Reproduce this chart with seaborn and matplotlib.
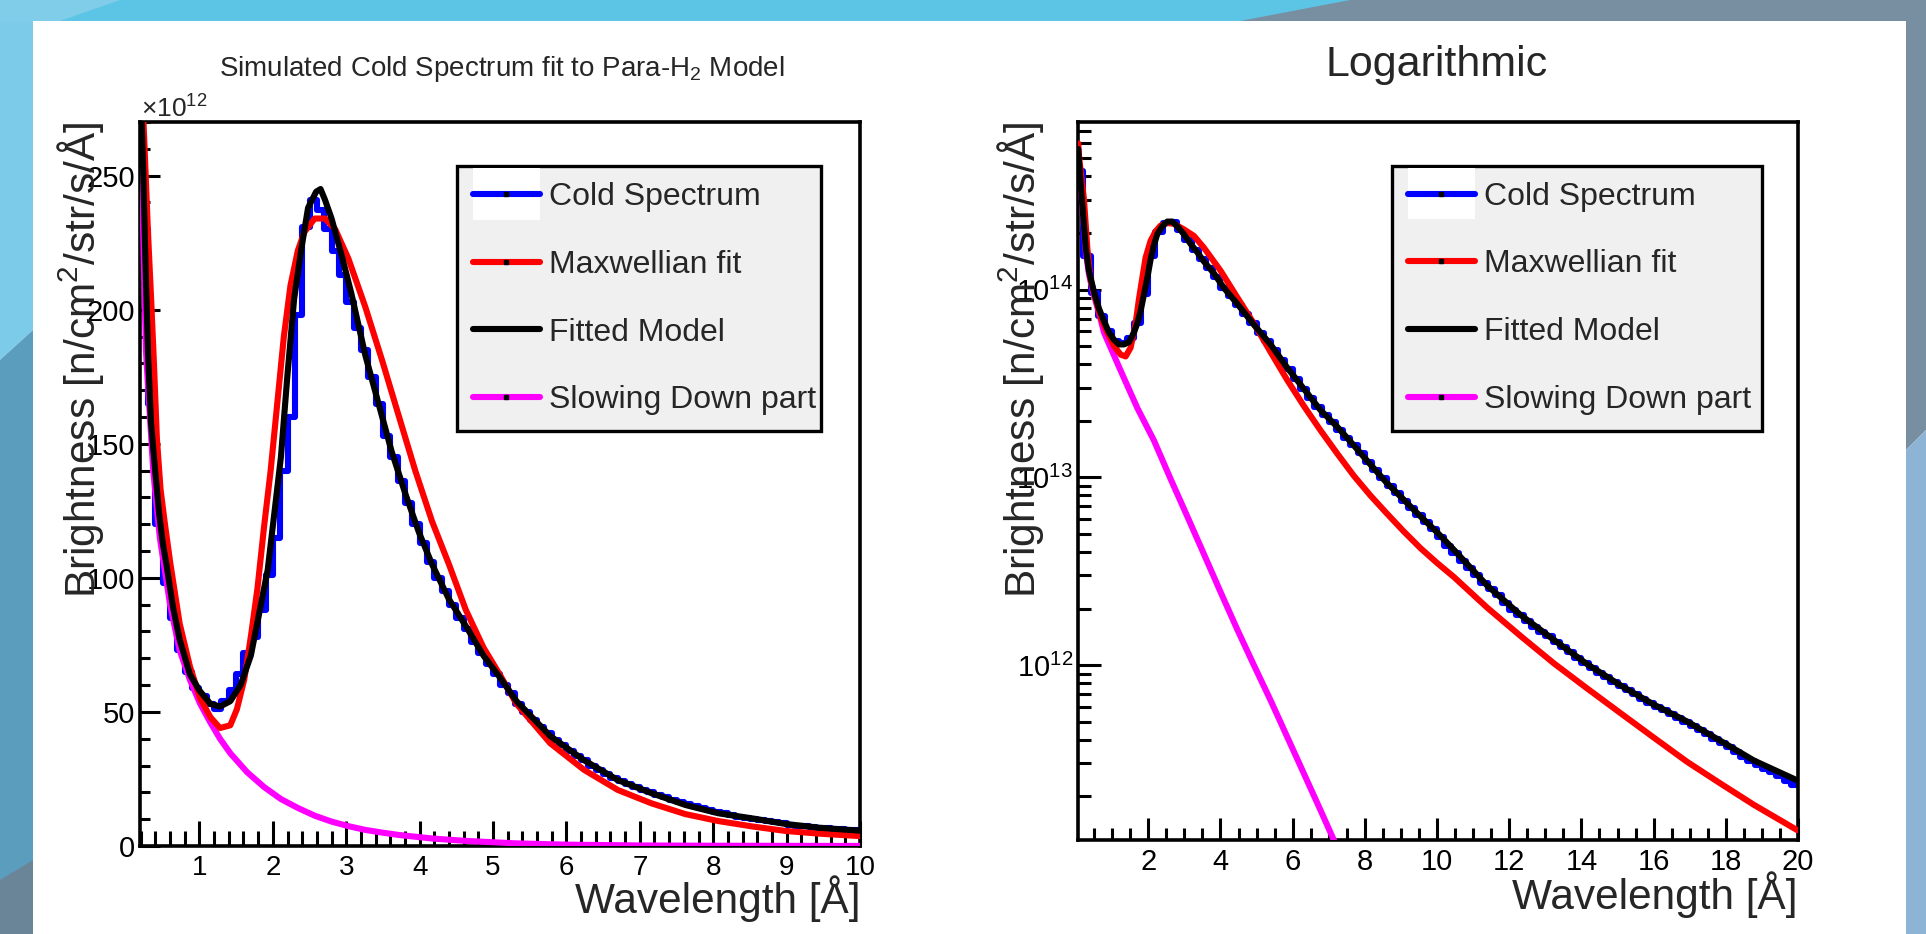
import numpy as np
import pandas as pd
import matplotlib
matplotlib.use("Agg")
import matplotlib.pyplot as plt
import seaborn as sns
from matplotlib.patches import Rectangle, Polygon
from matplotlib.lines import Line2D
from matplotlib.legend_handler import HandlerLine2D
from matplotlib.ticker import MultipleLocator, LogLocator, NullFormatter

UNIT = 1e12
labels = ["Cold Spectrum", "Maxwellian fit", "Fitted Model", "Slowing Down part"]

# ---------------- linear panel (values in units of 1e12 n/cm2/str/s/A) --------------
lin_model_x = [0.19, 0.23, 0.27, 0.30, 0.34, 0.39, 0.45, 0.50, 0.55, 0.64,
               0.73, 0.87, 1.00, 1.15, 1.28, 1.42, 1.56, 1.70, 1.83, 1.93,
               2.02, 2.11, 2.20, 2.29, 2.39, 2.48, 2.59, 2.65, 2.71, 2.80, 2.94,
               3.07, 3.26, 3.44, 3.62, 3.81, 3.99, 4.17, 4.40, 4.63, 4.87,
               5.09, 5.32, 5.78, 6.24, 6.70, 7.16, 7.62, 8.07, 8.53, 8.99,
               9.45, 10.0]
lin_model_y = [290, 255, 212, 183, 158, 142, 124, 113, 105, 89,
               77, 64, 58, 53, 52, 54, 60, 71, 89, 103,
               124, 145, 176, 204, 223, 238, 244, 245, 241, 234, 220,
               206, 183, 165, 147, 131, 117, 105, 92, 82, 71,
               63, 54, 41, 32, 24.6, 19.7, 15.3, 12.2, 10.3, 8.2,
               6.8, 5.7]

lin_maxw_x = [0.19, 0.25, 0.30, 0.34, 0.38, 0.42, 0.47, 0.53, 0.60, 0.73,
              0.87, 1.01, 1.15, 1.28, 1.42, 1.51, 1.61, 1.70, 1.79, 1.88,
              1.97, 2.06, 2.15, 2.24, 2.34, 2.43, 2.57, 2.71, 2.85, 3.03,
              3.26, 3.49, 3.72, 3.94, 4.17, 4.40, 4.63, 4.87, 5.09, 5.32,
              5.78, 6.24, 6.70, 7.16, 7.62, 8.07, 8.53, 8.99, 9.45, 10.0]
lin_maxw_y = [300, 262, 228, 205, 180, 152, 133, 120, 106, 83,
              67, 55, 48, 44, 45, 51, 62, 78, 96, 119,
              140, 165, 190, 209, 222, 229, 234, 234, 230, 219,
              201, 181, 160, 140, 121, 105, 88, 74, 64, 53,
              38.3, 28.4, 20.9, 15.9, 11.9, 9.3, 7.3, 5.6, 4.6, 3.7]

lin_slow_x = [0.19, 0.27, 0.33, 0.37, 0.46, 0.60, 0.73, 0.87, 1.01, 1.15,
              1.28, 1.42, 1.65, 1.88, 2.11, 2.34, 2.57, 2.80, 3.03, 3.26,
              3.49, 3.72, 4.17, 4.63, 5.30, 6.00, 7.00, 8.00, 10.0]
lin_slow_y = [280, 185, 158, 140, 115, 90, 73, 62, 53, 46,
              40, 34.6, 27.5, 22, 17.5, 14.2, 11.3, 9.1, 7.4, 6.0,
              5.0, 4.1, 2.8, 1.9, 1.0, 0.5, 0.2, 0.1, 0.02]

# histogram (bins of 0.1 A from 0.2 to 10 A)
lin_hist_lo, lin_hist_hi, lin_hist_n = 0.2, 10.0, 98
lin_hist_vals = [230, 165, 120, 98, 85, 73, 65, 59, 56, 53,
                 51, 54, 58, 64, 72, 78, 88, 101, 115, 140,
                 160, 198, 231, 241, 237, 230, 222, 213, 203, 193,
                 185, 175, 165, 153, 145, 136, 128, 120, 113, 106,
                 100, 95, 90, 85, 81, 76, 72, 68, 64, 60,
                 57, 53, 50, 47, 44.5, 42, 39.5, 37.5, 35.5, 33.5,
                 32, 30, 28.5, 27, 25.5, 24.2, 23, 22, 21, 20,
                 19, 18.2, 17.2, 16.3, 15.5, 14.8, 14, 13.4, 12.8, 12.2,
                 11.6, 11, 10.5, 10.2, 9.8, 9.3, 8.8, 8.4, 8.0, 7.6,
                 7.3, 7.0, 6.8, 6.6, 6.4, 6.2, 6.0, 5.8]
lin_xticks = [1, 2, 3, 4, 5, 6, 7, 8, 9, 10]
lin_yticks = [0, 50, 100, 150, 200, 250]

# ---------------- logarithmic panel (values in units of 1e12) -------------------------
log_model_x = [0.06, 0.081, 0.173, 0.266, 0.358, 0.496, 0.635, 0.773, 0.911, 1.05,
               1.188, 1.327, 1.465, 1.603, 1.696, 1.788, 1.880, 1.972, 2.065, 2.157,
               2.249, 2.387, 2.526, 2.664, 2.803, 2.987, 3.172, 3.356, 3.541, 3.817,
               4.094, 4.463, 4.924, 5.386, 5.847, 6.308, 6.769, 7.231, 7.692, 8.153,
               8.614, 9.076, 9.537, 9.998, 10.47, 11.39, 12.31, 13.24, 14.16, 15.08,
               16.01, 16.93, 17.85, 18.78, 19.98]
log_model_y = [560, 474, 282, 167, 125, 97, 79, 68, 59, 54,
               51, 51, 52.5, 59, 66, 77, 94, 115, 145, 173,
               197, 217, 230, 230, 217, 197, 175, 158, 141, 122,
               102, 84, 65, 51, 38.4, 29.6, 22.8, 18.6, 14.8, 11.7,
               9.3, 7.6, 6.2, 5.1, 4.1, 2.65, 1.85, 1.36, 1.01, 0.78,
               0.615, 0.50, 0.395, 0.31, 0.243]

log_maxw_x = [0.06, 0.081, 0.22, 0.312, 0.404, 0.542, 0.681, 0.865, 1.05, 1.234,
              1.373, 1.511, 1.649, 1.742, 1.834, 1.926, 2.065, 2.203, 2.341, 2.526,
              2.710, 2.987, 3.264, 3.541, 4.002, 4.463, 4.924, 5.386, 5.847, 6.308,
              6.769, 7.231, 7.692, 8.153, 8.614, 9.076, 9.537, 9.998, 10.47, 11.39,
              12.31, 13.24, 14.16, 15.08, 16.01, 16.93, 17.85, 18.78, 19.98]
log_maxw_y = [600, 513, 299, 166, 112, 89, 71, 59, 50, 45,
              44, 49, 66, 89, 115, 148, 182, 204, 219, 226,
              224, 209, 193, 167, 126, 91, 66, 46.5, 33, 24,
              17.8, 13.4, 10.2, 8.0, 6.4, 5.15, 4.2, 3.5, 2.94, 2.02,
              1.43, 1.02, 0.75, 0.555, 0.41, 0.305, 0.234, 0.18, 0.132]

log_slow_x = [0.06, 0.173, 0.266, 0.358, 0.496, 0.635, 0.773, 1.234, 1.696, 2.157,
              2.618, 3.079, 3.541, 4.002, 4.463, 4.924, 5.386, 5.847, 6.308, 6.769,
              7.14, 7.60]
log_slow_y = [540, 275, 160, 120, 93, 75, 59, 37, 23.4, 15.7,
              9.8, 6.2, 3.9, 2.45, 1.55, 1.0, 0.65, 0.415, 0.265, 0.169,
              0.117, 0.075]

# histogram (bins of 0.2 A from 0 to 20 A)
log_hist_lo, log_hist_hi, log_hist_n = 0.0, 20.0, 100
log_hist_vals = [430, 150, 96, 72, 60, 53, 52, 55, 66, 95,
                 150, 203, 226, 228, 208, 184, 163, 145, 130, 116,
                 102, 92, 83, 74, 66, 59, 53.5, 47.5, 42, 37.5,
                 33.3, 29.7, 26.5, 23.8, 21.5, 19.6, 17.9, 16.2, 14.8, 13.4,
                 12.1, 10.9, 9.9, 9.0, 8.2, 7.5, 6.9, 6.3, 5.8, 5.3,
                 4.8, 4.3, 3.95, 3.6, 3.3, 3.0, 2.75, 2.55, 2.35, 2.15,
                 1.97, 1.84, 1.72, 1.6, 1.5, 1.42, 1.33, 1.24, 1.17, 1.09,
                 1.02, 0.96, 0.91, 0.86, 0.81, 0.77, 0.74, 0.70, 0.66, 0.63,
                 0.60, 0.575, 0.55, 0.525, 0.50, 0.475, 0.45, 0.43, 0.405, 0.385,
                 0.365, 0.345, 0.325, 0.31, 0.295, 0.28, 0.27, 0.255, 0.24, 0.23]
log_xticks = [2, 4, 6, 8, 10, 12, 14, 16, 18, 20]
log_yticks = [1e12, 1e13, 1e14]
log_yticklabels = ["$10^{12}$", "$10^{13}$", "$10^{14}$"]

# ---------------- style ----------------
sns.set_theme(style="white")
plt.rcParams["font.family"] = ["Liberation Sans", "DejaVu Sans"]
plt.rcParams["mathtext.fontset"] = "custom"
plt.rcParams["mathtext.rm"] = "Liberation Sans"
plt.rcParams["mathtext.it"] = "Liberation Sans:italic"
plt.rcParams["mathtext.bf"] = "Liberation Sans:bold"
plt.rcParams["axes.unicode_minus"] = False

W, H = 1926, 934
BLUE, RED, BLACK, MAG = "#0000ff", "#ff0000", "#000000", "#ff00ff"
LW = 4.4

fig = plt.figure(figsize=(W / 100, H / 100), dpi=100, facecolor="white")


def fpt(x, y):
    return (x / W, 1 - y / H)


def poly(pts, color):
    fig.add_artist(Polygon([fpt(*p) for p in pts], closed=True, facecolor=color,
                           edgecolor="none", transform=fig.transFigure, zorder=-5))


# slide background
poly([(0, 0), (W, 0), (W, 21), (0, 21)], "#5cc5e5")
poly([(0, 0), (120, 0), (60, 21), (0, 21)], "#80cdea")
poly([(1350, 0), (W, 0), (W, 21), (1240, 21)], "#788fa2")
poly([(0, 21), (33, 21), (33, 330), (0, 360)], "#7ccbe9")
poly([(0, 360), (33, 330), (33, 934), (0, 934)], "#5b9dbc")
poly([(0, 880), (33, 860), (33, 934), (0, 934)], "#6a8597")
poly([(1906, 21), (W, 21), (W, 430), (1906, 450)], "#788fa2")
poly([(1906, 450), (W, 430), (W, 934), (1906, 934)], "#8db4d5")

ax1 = fig.add_axes([140 / W, 1 - 846 / H, 720 / W, 724 / H])
ax2 = fig.add_axes([1078 / W, 1 - 840 / H, 720 / W, 718 / H])


def draw(ax, lo, hi, n, hist_vals, curves, scale):
    edges = np.linspace(lo, hi, n + 1)
    hist_df = pd.DataFrame({"wl": (edges[:-1] + edges[1:]) / 2,
                            "w": np.array(hist_vals, dtype=float) * scale})
    sns.histplot(data=hist_df, x="wl", weights="w", bins=list(edges),
                 element="step", fill=False, color=BLUE, linewidth=LW, ax=ax, zorder=2)
    for (xs, ys, col, z) in curves:
        cdf = pd.DataFrame({"wl": xs, "b": np.array(ys, dtype=float) * scale})
        sns.lineplot(data=cdf, x="wl", y="b", color=col, linewidth=LW, ax=ax,
                     estimator=None, sort=False, legend=False, zorder=z)


draw(ax1, lin_hist_lo, lin_hist_hi, lin_hist_n, lin_hist_vals,
     [(lin_slow_x, lin_slow_y, MAG, 3), (lin_maxw_x, lin_maxw_y, RED, 4),
      (lin_model_x, lin_model_y, BLACK, 5)], 1.0)
draw(ax2, log_hist_lo, log_hist_hi, log_hist_n, log_hist_vals,
     [(log_slow_x, log_slow_y, MAG, 3), (log_maxw_x, log_maxw_y, RED, 4),
      (log_model_x, log_model_y, BLACK, 5)], UNIT)

# ---- axes 1 (linear) ----
ax1.set_xlim(0.19, 10)
ax1.set_ylim(0, 270)
ax1.set_xticks(lin_xticks, [str(v) for v in lin_xticks])
ax1.set_yticks(lin_yticks, [str(v) for v in lin_yticks])
ax1.xaxis.set_minor_locator(MultipleLocator(0.2))
ax1.yaxis.set_minor_locator(MultipleLocator(10))
ax1.tick_params(axis="x", which="major", direction="in", length=18, width=2.2, pad=6.5, labelsize=20)
ax1.tick_params(axis="x", which="minor", direction="in", length=10.5, width=2.2)
ax1.tick_params(axis="y", which="major", direction="in", length=14.4, width=2.2, pad=3.6, labelsize=21)
ax1.tick_params(axis="y", which="minor", direction="in", length=7.2, width=2.2)

# ---- axes 2 (log) ----
ax2.set_yscale("log")
ax2.set_xlim(0.053, 20)
ax2.set_ylim(1.17e11, 7.8e14)
ax2.set_xticks(log_xticks, [str(v) for v in log_xticks])
ax2.set_yticks(log_yticks, log_yticklabels)
ax2.xaxis.set_minor_locator(MultipleLocator(0.5))
ax2.yaxis.set_minor_locator(LogLocator(base=10, subs=(2, 3, 4, 5, 6, 7, 8, 9)))
ax2.yaxis.set_minor_formatter(NullFormatter())
ax2.tick_params(axis="x", which="major", direction="in", length=15.8, width=2.2, pad=6, labelsize=21)
ax2.tick_params(axis="x", which="minor", direction="in", length=8.6, width=2.2)
ax2.tick_params(axis="y", which="major", direction="in", length=16.5, width=2.2, pad=3.6, labelsize=21)
ax2.tick_params(axis="y", which="minor", direction="in", length=9.4, width=2.2)

ylab = "Brightness [n/cm$^2$/str/s/Å]"
for ax, lx, yx in [(ax1, -0.041, -0.047), (ax2, -0.043, -0.044)]:
    ax.set_facecolor("white")
    for s in ax.spines.values():
        s.set_linewidth(2.6)
        s.set_color("black")
        s.set_visible(True)
    ax.tick_params(which="both", top=False, right=False, bottom=True, left=True, colors="black")
    ax.set_xlabel("Wavelength [Å]", fontsize=30.5, loc="right")
    ax.xaxis.set_label_coords(1.0, lx)
    ax.set_ylabel(ylab, fontsize=30.5, loc="top")
    ax.yaxis.set_label_coords(yx, 1.0)
    ax.grid(False)

# ---- legends ----
class HistHandler(HandlerLine2D):
    def create_artists(self, legend, orig_handle, xdescent, ydescent, width, height, fontsize, trans):
        arts = super().create_artists(legend, orig_handle, xdescent, ydescent, width, height,
                                      fontsize, trans)
        box = Rectangle((-xdescent, -ydescent + height / 2 - 1.15 * height), width, 2.3 * height,
                        facecolor="white", edgecolor="none", transform=trans)
        return [box] + arts


def handles():
    hb = Line2D([], [], color=BLUE, lw=LW, marker="s", markersize=2.5, mfc="black", mec="black")
    hr = Line2D([], [], color=RED, lw=LW, marker="s", markersize=2.5, mfc="black", mec="black")
    hk = Line2D([], [], color=BLACK, lw=LW)
    hm = Line2D([], [], color=MAG, lw=LW, marker="s", markersize=2.5, mfc="black", mec="black")
    return [hb, hr, hk, hm], hb


for ax, (x0, x1, y0, y1) in [(ax1, (0.440, 0.946, 0.565, 0.939)),
                             (ax2, (0.436, 0.950, 0.561, 0.939))]:
    hs, hb = handles()
    leg = ax.legend(hs, labels, loc="upper left", bbox_to_anchor=(x0, y0, x1 - x0, y1 - y0),
                    mode="expand", borderaxespad=0, fontsize=23, handlelength=2.1,
                    handletextpad=0.28, labelspacing=1.18, borderpad=0.5, numpoints=1,
                    fancybox=False, framealpha=1, handler_map={hb: HistHandler()})
    fr = leg.get_frame()
    fr.set_facecolor("#f0f0f0")
    fr.set_edgecolor("black")
    fr.set_linewidth(2.4)
    leg.set_zorder(10)

# ---- titles and exponent ----
fig.text(502 / W, 1 - 76 / H, "Simulated Cold Spectrum fit to Para-H$_2$ Model",
         ha="center", va="baseline", fontsize=20)
fig.text(1437 / W, 1 - 76 / H, "Logarithmic", ha="center", va="baseline", fontsize=31)
fig.text(141 / W, 1 - 118 / H, "×10$^{12}$", ha="left", va="baseline", fontsize=19)

fig.savefig("out.png", dpi=100, facecolor=fig.get_facecolor())
